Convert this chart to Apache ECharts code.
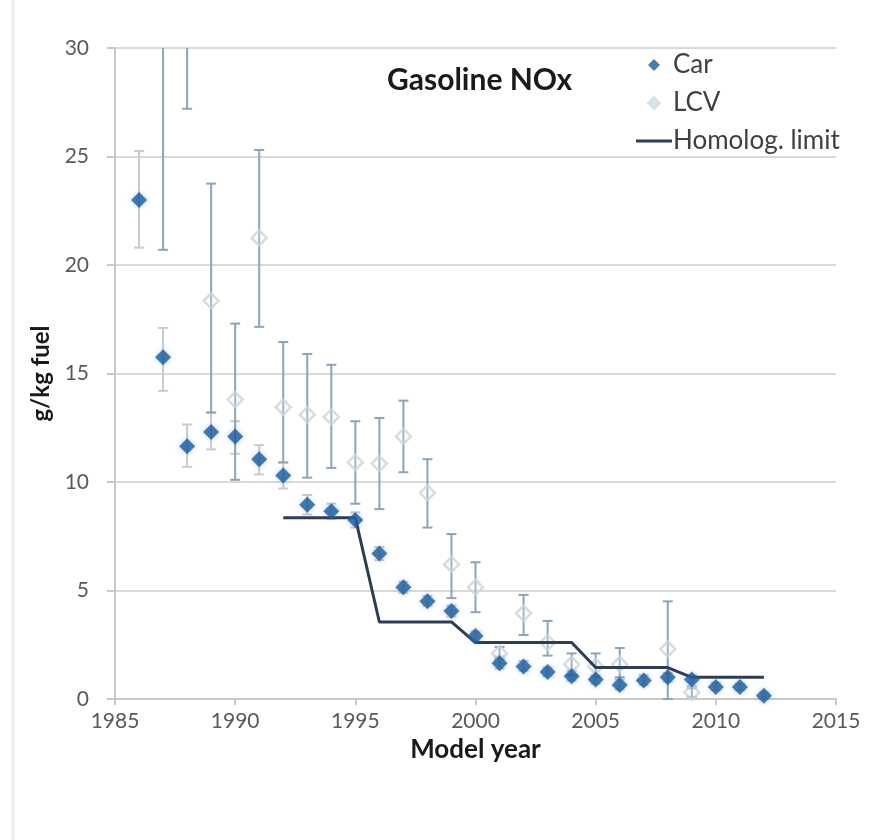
<!DOCTYPE html>
<html>
<head>
<meta charset="utf-8">
<script src="https://cdn.jsdelivr.net/npm/echarts@6/dist/echarts.min.js"></script>
<style>
html,body{margin:0;padding:0;background:#fff;}
#chart{width:874px;height:840px;}
</style>
</head>
<body>
<div id="chart"></div>
<script>
// ---- data ----
var carYears = [1986,1987,1988,1989,1990,1991,1992,1993,1994,1995,1996,1997,1998,1999,2000,2001,2002,2003,2004,2005,2006,2007,2008,2009,2010,2011,2012];
var carVals  = [23.0,15.75,11.65,12.3,12.1,11.05,10.3,8.95,8.65,8.25,6.7,5.15,4.5,4.05,2.9,1.65,1.5,1.25,1.05,0.9,0.65,0.85,1.0,0.9,0.55,0.55,0.15];
var carLow   = [20.8,14.2,10.7,11.5,11.3,10.35,9.7,8.5,8.3,7.9,6.4,4.9,4.3,3.8,2.7,1.4,1.3,1.05,0.85,0.7,0.45,0.65,0.8,0.6,0.4,0.4,0.05];
var carHigh  = [25.25,17.1,12.65,13.2,12.8,11.7,10.9,9.4,9.0,8.6,7.0,5.4,4.75,4.3,3.1,1.95,1.75,1.45,1.3,1.1,0.9,1.1,1.2,1.1,0.75,0.7,0.3];

var lcvYears = [1987,1988,1989,1990,1991,1992,1993,1994,1995,1996,1997,1998,1999,2000,2001,2002,2003,2004,2005,2006,2008,2009];
var lcvVals  = [34,36,18.35,13.8,21.25,13.45,13.1,13.0,10.9,10.85,12.1,9.5,6.2,5.15,2.1,3.95,2.6,1.6,1.5,1.6,2.3,0.3];
var lcvLow   = [20.7,27.2,13.2,10.1,17.15,10.9,10.2,10.65,9.0,8.75,10.45,7.9,4.65,4.0,1.85,2.95,2.0,1.1,1.0,1.0,0.0,0.1];
var lcvHigh  = [45,45,23.75,17.3,25.3,16.45,15.9,15.4,12.8,12.95,13.75,11.05,7.6,6.3,2.4,4.8,3.6,2.1,2.1,2.35,4.5,0.5];

var limitYears = [1992,1995,1996,1999,2000,2004,2005,2008,2009,2012];
var limitVals  = [8.35,8.35,3.55,3.55,2.6,2.6,1.45,1.45,1.0,1.0];

var xTicks = [1985,1990,1995,2000,2005,2010,2015];
var yTicks = [0,5,10,15,20,25,30];

// ---- build ----
function zip(a,b){ return a.map(function(v,i){ return [v,b[i]]; }); }
function errData(xs, lo, hi){ return xs.map(function(x,i){ return [x, lo[i], hi[i]]; }); }

function errRender(color, capW){
  return function(params, api){
    var cs = params.coordSys;
    var top = cs.y, bot = cs.y + cs.height;
    var p1 = api.coord([api.value(0), api.value(1)]);
    var p2 = api.coord([api.value(0), api.value(2)]);
    var y1 = Math.min(Math.max(p1[1], top), bot);
    var y2 = Math.min(Math.max(p2[1], top), bot);
    var x = p1[0];
    var children = [{type:'line', shape:{x1:x,y1:y1,x2:x,y2:y2}, style:{stroke:color,lineWidth:2}}];
    if (p1[1] >= top && p1[1] <= bot) children.push({type:'line', shape:{x1:x-capW,y1:p1[1],x2:x+capW,y2:p1[1]}, style:{stroke:color,lineWidth:2}});
    if (p2[1] >= top && p2[1] <= bot) children.push({type:'line', shape:{x1:x-capW,y1:p2[1],x2:x+capW,y2:p2[1]}, style:{stroke:color,lineWidth:2}});
    return {type:'group', children:children};
  };
}

var diamondPath = 'path://M6,0L12,6L6,12L0,6Z';
var labelFont = 'Lato';
var chart = echarts.init(document.getElementById('chart'), null, {renderer:'canvas'});
chart.setOption({
  backgroundColor:'#fff',
  animation:false,
  graphic:[{type:'line', shape:{x1:13,y1:0,x2:13,y2:840}, style:{stroke:'#ebebeb', lineWidth:3}, silent:true}],
  title:{text:'Gasoline NOx', left:387, top:65, padding:0, textStyle:{fontFamily:labelFont, fontWeight:'bold', fontSize:30, color:'#1a1a1a'}},
  legend:{
    data:[
      {name:'Car', icon:diamondPath, itemStyle:{color:'#1b5c9e'}},
      {name:'LCV', icon:diamondPath, itemStyle:{color:'#d3dbe3', borderColor:'#d3dbe3'}},
      {name:'Homolog. limit', icon:'path://M0,0L36,0L36,3L0,3Z'}
    ],
    orient:'vertical', left:636, top:52, padding:0, itemWidth:36, itemHeight:12, itemGap:12,
    symbolKeepAspect:true,
    textStyle:{fontFamily:labelFont, fontSize:26, color:'#404040', padding:[0,0,0,-4]}
  },
  grid:{left:115, right:38, top:48, bottom:141},
  xAxis:{
    type:'value', min:xTicks[0], max:xTicks[xTicks.length-1], interval:5,
    name:'Model year', nameLocation:'middle', nameGap:34,
    nameTextStyle:{fontFamily:labelFont, fontWeight:'bold', fontSize:26, color:'#1a1a1a'},
    axisLine:{show:true, lineStyle:{color:'#c8c8c8', width:2}},
    axisTick:{show:true, length:6, lineStyle:{color:'#c8c8c8', width:2}},
    axisLabel:{fontFamily:labelFont, fontSize:21, color:'#595959', margin:12, formatter:function(v){ return String(v); }},
    splitLine:{show:false}
  },
  yAxis:{
    type:'value', min:yTicks[0], max:yTicks[yTicks.length-1], interval:5,
    name:'g/kg fuel', nameLocation:'middle', nameGap:62, nameRotate:90,
    nameTextStyle:{fontFamily:labelFont, fontWeight:'bold', fontSize:24, color:'#1a1a1a'},
    axisLine:{show:true, lineStyle:{color:'#c8c8c8', width:2}},
    axisTick:{show:true, length:8, lineStyle:{color:'#c8c8c8', width:2}},
    axisLabel:{fontFamily:labelFont, fontSize:21, color:'#595959', margin:26},
    splitLine:{show:true, lineStyle:{color:'#d9d9d9', width:2}}
  },
  series:[
    {name:'carErr', type:'custom', renderItem:errRender('#c4ccd4',5), data:errData(carYears,carLow,carHigh), z:1, silent:true},
    {name:'lcvErr', type:'custom', renderItem:errRender('#8fa3b5',5), data:errData(lcvYears,lcvLow,lcvHigh), z:2, silent:true},
    {name:'LCV', type:'scatter', data:zip(lcvYears,lcvVals), symbol:'diamond', symbolSize:15, clip:true,
      itemStyle:{color:'rgba(255,255,255,0.25)', borderColor:'#c9d4de', borderWidth:2.5}, z:3},
    {name:'Homolog. limit', type:'line', data:zip(limitYears,limitVals), symbol:'none',
      lineStyle:{color:'#2e3c55', width:3}, itemStyle:{color:'#2e3c55'}, z:4},
    {name:'Car', type:'scatter', data:zip(carYears,carVals), symbol:'diamond', symbolSize:16, clip:true,
      itemStyle:{color:'#1b5c9e', shadowBlur:5, shadowColor:'rgba(60,130,200,0.45)'}, z:5}
  ]
});
</script>
</body>
</html>
